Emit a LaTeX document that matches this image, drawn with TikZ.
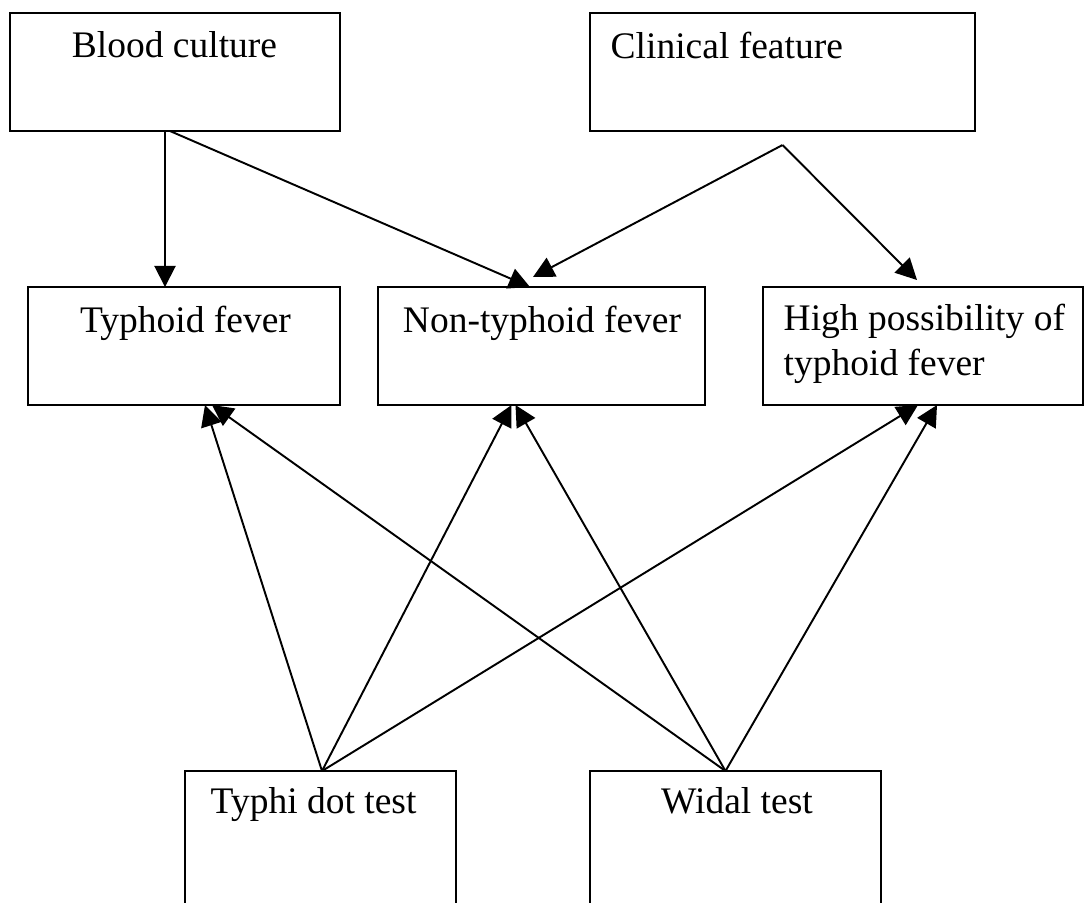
\documentclass[tikz,border=0pt]{standalone}
\usepackage{fontspec}
\setmainfont{Liberation Serif}
\usepackage{tikz}
\usetikzlibrary{arrows.meta,positioning}

\tikzset{
  box/.style={draw,line width=0.6pt,inner sep=0pt,outer sep=0pt,minimum height=1.18cm},
  lbl/.style={inner sep=0pt,font=\fontsize{10.67}{12.8}\selectfont},
  link/.style={line width=0.55pt,-{Triangle[length=6pt,width=6pt]}}
}

\begin{document}
\begin{tikzpicture}
\useasboundingbox (0,0) rectangle (10.85,-9.02);
\clip (0,0) rectangle (10.85,-9.02);
\fill[white] (0,0) rectangle (10.85,-9.02);
% boxes
\node[box,minimum width=3.30cm] (blood) at (1.75,-0.72) {};
\node[box,minimum width=3.85cm] (clinical) at (7.825,-0.72) {};
\node[box,minimum width=3.12cm] (typhoid) at (1.84,-3.46) {};
\node[box,minimum width=3.27cm] (nontyphoid) at (5.415,-3.46) {};
\node[box,minimum width=3.20cm] (highposs) at (9.23,-3.46) {};
\node[box,minimum width=2.71cm,minimum height=1.60cm] (typhidot) at (3.205,-8.51) {};
\node[box,minimum width=2.91cm,minimum height=1.60cm] (widal) at (7.355,-8.51) {};
% texts
\node[lbl,anchor=base] (bloodtxt) at (1.745,-0.57) {Blood culture};
\node[lbl,anchor=base west] (clinicaltxt) at (6.10,-0.58) {Clinical feature};
\node[lbl,anchor=base] (typhoidtxt) at (1.855,-3.32) {Typhoid fever};
\node[lbl,anchor=base] (nontyphoidtxt) at (5.42,-3.32) {Non-typhoid fever};
\node[lbl,anchor=base west,align=left] (highposstxt) at (7.83,-3.75) {High possibility of\\typhoid fever};
\node[lbl,anchor=base west] (typhidottxt) at (2.10,-8.13) {Typhi dot test};
\node[lbl,anchor=base] (widaltxt) at (7.37,-8.13) {Widal test};
% blood culture
\draw[link] ([xshift=-1mm]blood.south) -- ([xshift=-1mm]blood.south |- typhoid.north);
\draw[link] ([xshift=-0.5mm]blood.south) -- ([xshift=-1.15mm]nontyphoid.north);
% clinical feature
\coordinate (fork) at ([yshift=-1.4mm]clinical.south);
\draw[link] (fork) -- ([xshift=-0.85mm,yshift=1mm]nontyphoid.north);
\draw[link] (fork) -- ([xshift=-0.6mm,yshift=0.7mm]highposs.north);
% typhi dot test
\draw[link] ([xshift=0.15mm]typhidot.north) -- ([xshift=2.1mm]typhoid.south);
\draw[link] ([xshift=0.15mm]typhidot.north) -- ([xshift=-3mm]nontyphoid.south);
\draw[link] ([xshift=0.15mm]typhidot.north) -- ([xshift=-0.5mm]highposs.south);
% widal test
\draw[link] ([xshift=-1mm]widal.north) -- ([xshift=2.8mm]typhoid.south);
\draw[link] ([xshift=-1mm]widal.north) -- ([xshift=-2.6mm]nontyphoid.south);
\draw[link] ([xshift=-1mm]widal.north) -- ([xshift=1.4mm]highposs.south);
\end{tikzpicture}
\end{document}
